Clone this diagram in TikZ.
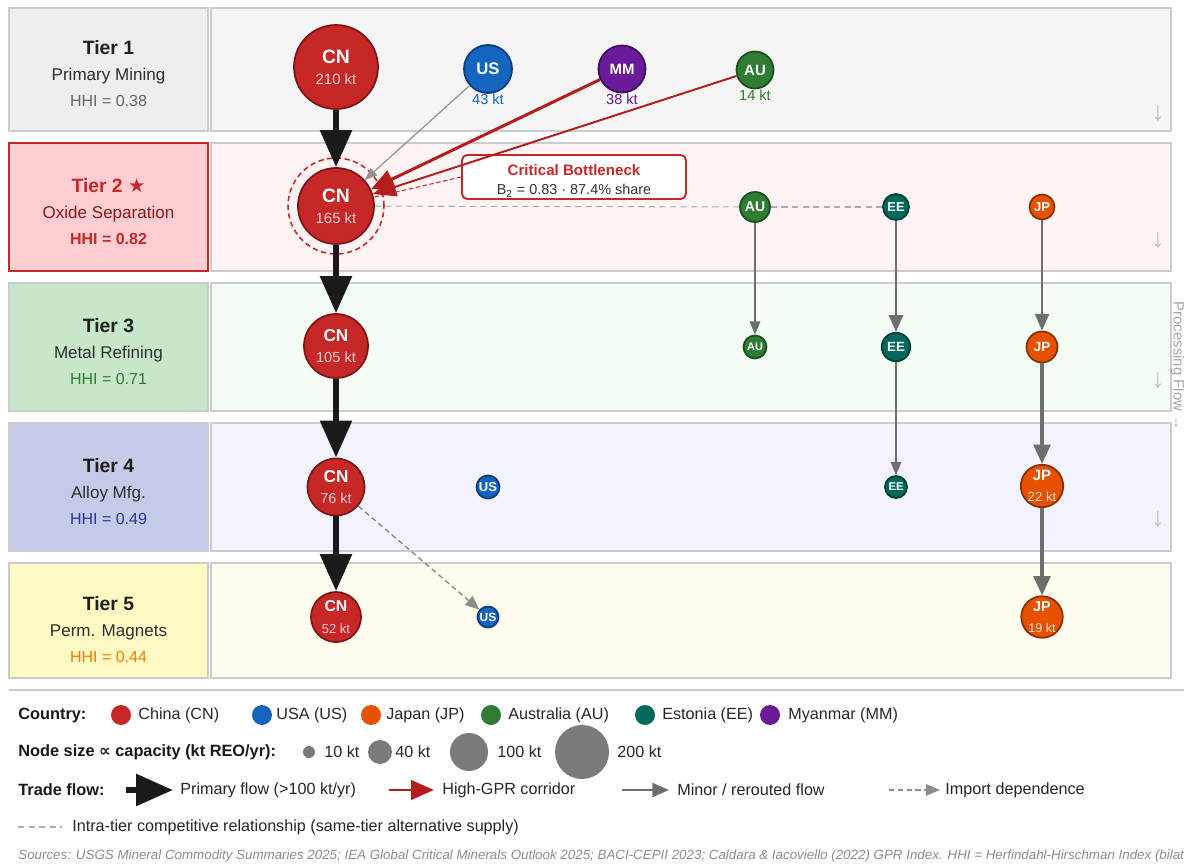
\documentclass[tikz,border=0pt]{standalone}
\usepackage{fontspec}
\setmainfont{Liberation Sans}
\newfontfamily\symfont{DejaVu Sans}
\usepackage{tikz}
\usetikzlibrary{arrows.meta,positioning}

\definecolor{cnred}{HTML}{C62828}
\definecolor{cnedge}{HTML}{7F1515}
\definecolor{usblue}{HTML}{1565C0}
\definecolor{usedge}{HTML}{0D3C78}
\definecolor{jporange}{HTML}{E65100}
\definecolor{jpedge}{HTML}{8A3000}
\definecolor{augreen}{HTML}{2E7D32}
\definecolor{auedge}{HTML}{1B4D1E}
\definecolor{eeteal}{HTML}{00695C}
\definecolor{eeedge}{HTML}{003D36}
\definecolor{mmpurple}{HTML}{6A1B9A}
\definecolor{mmedge}{HTML}{3E0E5E}
\definecolor{ktpink}{HTML}{FFCDD2}
\definecolor{ktpeach}{HTML}{FFE0CC}
\definecolor{flowblack}{HTML}{1A1A1A}
\definecolor{flowred}{HTML}{B71C1C}
\definecolor{flowgray}{HTML}{6E6E6E}
\definecolor{boxline}{HTML}{CCCCCC}
\definecolor{txtgray}{HTML}{666666}
\definecolor{darkred}{HTML}{8B1A1A}
\definecolor{band1}{HTML}{F5F5F5}
\definecolor{band2}{HTML}{FFF4F4}
\definecolor{band3}{HTML}{F3FDF3}
\definecolor{band4}{HTML}{F3F3FD}
\definecolor{band5}{HTML}{FFFDEF}
\definecolor{tier1fill}{HTML}{EEEEEE}
\definecolor{tier2fill}{HTML}{FFCDD2}
\definecolor{tier3fill}{HTML}{C8E6C9}
\definecolor{tier4fill}{HTML}{C5CAE9}
\definecolor{tier5fill}{HTML}{FFF9C4}
\definecolor{hhigreen}{HTML}{2E7D32}
\definecolor{hhiblue}{HTML}{283593}
\definecolor{hhiorange}{HTML}{F57C00}
\definecolor{legdotgray}{HTML}{7A7A7A}

\newcommand{\ctytext}[6]{\fontsize{#1}{#5}\selectfont #2\\\fontsize{#3}{#5}\selectfont\mdseries\color{#6}#4}

\begin{document}
\begin{tikzpicture}[x = 0.02cm, y = -0.02cm]
	\tikzstyle{every node} = [inner sep = 0pt]
	\tikzstyle{bandline} = [draw = boxline, line width = 0.6pt]
	\tikzstyle{tiertext} = [align = center, font = \fontsize{9.7}{14.8}\selectfont, text = black!82]
	\tikzstyle{cty} = [circle, line width = 1pt, align = center, text = white, font = \bfseries]
	\tikzstyle{cn} = [cty, fill = cnred, draw = cnedge]
	\tikzstyle{us} = [cty, fill = usblue, draw = usedge]
	\tikzstyle{jp} = [cty, fill = jporange, draw = jpedge]
	\tikzstyle{au} = [cty, fill = augreen, draw = auedge]
	\tikzstyle{ee} = [cty, fill = eeteal, draw = eeedge]
	\tikzstyle{mm} = [cty, fill = mmpurple, draw = mmedge]
	\tikzstyle{ktlabel} = [font = \fontsize{8.3}{10}\selectfont]
	\tikzstyle{ringmark} = [circle, draw = cnred, line width = 0.9pt, dash pattern = on 3pt off 2pt]
	\tikzstyle{bneckbox} = [draw = cnred, line width = 1.1pt, fill = white, rounded corners = 3pt, minimum width = 4.48cm, minimum height = 0.88cm, align = center, font = \fontsize{8.2}{10.8}\selectfont, text = black!80]
	\tikzstyle{primaryflow} = [flowblack, line width = 3.5pt, -{Triangle[width = 17.5pt, length = 21pt]}]
	\tikzstyle{gprflow} = [flowred, line width = 1.7pt, -{Triangle[width = 11pt, length = 13pt]}]
	\tikzstyle{thinflow} = [gray!85, line width = 0.7pt, -{Triangle[width = 5.5pt, length = 7pt]}]
	\tikzstyle{minorflow} = [flowgray, line width = 0.8pt, -{Triangle[width = 6pt, length = 7.5pt]}]
	\tikzstyle{midflow} = [flowgray, line width = 1.2pt, -{Triangle[width = 8pt, length = 9.5pt]}]
	\tikzstyle{heavyflow} = [flowgray, line width = 1.8pt, -{Triangle[width = 9.6pt, length = 11pt]}]
	\tikzstyle{importflow} = [gray!90, line width = 0.8pt, dash pattern = on 3pt off 2pt, -{Triangle[width = 6.5pt, length = 8pt]}]
	\tikzstyle{intraline} = [gray!65, line width = 0.6pt, dash pattern = on 3.5pt off 2.5pt]
	\tikzstyle{flowmark} = [text = black!25, font = \fontsize{15}{15}\selectfont]
	\tikzstyle{legtext} = [anchor = west, font = \fontsize{9.2}{11}\selectfont, text = black!85]
	\tikzstyle{leghead} = [anchor = west, font = \fontsize{9.3}{11}\selectfont\bfseries, text = black!90]
	\tikzstyle{legdot} = [circle, minimum size = 0.4cm]

\fill[white] (0, 0) rectangle (1184, 865);
\useasboundingbox (0, 0) rectangle (1184, 865);

	\filldraw[bandline, fill = tier1fill] (9, 8) rectangle (208, 131);
	\filldraw[bandline, fill = tier2fill, draw = cnred, line width = 1.2pt] (9, 143) rectangle (208, 271);
	\filldraw[bandline, fill = tier3fill] (9, 283) rectangle (208, 411);
	\filldraw[bandline, fill = tier4fill] (9, 423) rectangle (208, 551);
	\filldraw[bandline, fill = tier5fill] (9, 563) rectangle (208, 678);
	\filldraw[bandline, fill = band1] (211, 8) rectangle (1171, 131);
	\filldraw[bandline, fill = band2] (211, 143) rectangle (1171, 271);
	\filldraw[bandline, fill = band3] (211, 283) rectangle (1171, 411);
	\filldraw[bandline, fill = band4] (211, 423) rectangle (1171, 551);
	\filldraw[bandline, fill = band5] (211, 563) rectangle (1171, 678);

\node[tiertext] (tier1) at (108.5, 73.5) {{\fontsize{11}{14.8}\selectfont\bfseries\color{black!88}Tier 1}\\Primary Mining\\{\fontsize{9.1}{14.8}\selectfont\color{txtgray}HHI = 0.38}};
\node[tiertext, text = darkred] (tier2) at (108.5, 211.5) {{\fontsize{11}{14.8}\selectfont\bfseries\color{cnred}Tier 2 {\symfont ★}}\\Oxide Separation\\{\fontsize{9.1}{14.8}\selectfont\bfseries\color{cnred}HHI = 0.82}};
\node[tiertext] (tier3) at (108.5, 351.5) {{\fontsize{11}{14.8}\selectfont\bfseries\color{black!88}Tier 3}\\Metal Refining\\{\fontsize{9.1}{14.8}\selectfont\color{hhigreen}HHI = 0.71}};
\node[tiertext] (tier4) at (108.5, 491.5) {{\fontsize{11}{14.8}\selectfont\bfseries\color{black!88}Tier 4}\\Alloy Mfg.\\{\fontsize{9.1}{14.8}\selectfont\color{hhiblue}HHI = 0.49}};
\node[tiertext] (tier5) at (108.5, 629.5) {{\fontsize{11}{14.8}\selectfont\bfseries\color{black!88}Tier 5}\\Perm. Magnets\\{\fontsize{9.1}{14.8}\selectfont\color{hhiorange}HHI = 0.44}};

\node[flowmark] (fm1) at (1158, 113) {↓};
\node[flowmark] (fm2) at (1158, 240) {↓};
\node[flowmark] (fm3) at (1158, 380) {↓};
\node[flowmark] (fm4) at (1158, 519) {↓};
\node[rotate = -90, text = black!35, font = \fontsize{8.5}{10}\selectfont] (pflow) at (1177.5, 366) {Processing Flow →};

\node[ringmark, minimum size = 1.92cm] (cn2ring) at (336, 206) {};

\node[cn, minimum size = 1.68cm] (cn1) at (336, 67) {\ctytext{11}{CN}{8.5}{210 kt}{14.2}{ktpink}};
\node[cn, minimum size = 1.52cm] (cn2) at (336, 206) {\ctytext{11}{CN}{8.5}{165 kt}{14.2}{ktpink}};
\node[cn, minimum size = 1.28cm] (cn3) at (336, 346) {\ctytext{9.8}{CN}{8.3}{105 kt}{12.5}{ktpink}};
\node[cn, minimum size = 1.14cm] (cn4) at (336, 487) {\ctytext{9.8}{CN}{8.2}{76 kt}{12.5}{ktpink}};
\node[cn, minimum size = 1.0cm] (cn5) at (336, 617) {\ctytext{9}{CN}{7.4}{52 kt}{10.8}{ktpink}};

\node[us, minimum size = 0.96cm, font = \fontsize{9.5}{10}\selectfont\bfseries] (us1) at (488, 69) {US};
\node[mm, minimum size = 0.94cm, font = \fontsize{8.5}{10}\selectfont\bfseries] (mm1) at (622, 69) {MM};
\node[au, minimum size = 0.74cm, font = \fontsize{8.5}{10}\selectfont\bfseries] (au1) at (755, 70) {AU};
\node[ktlabel, text = usblue, below = 0pt of us1] (us1kt) {43 kt};
\node[ktlabel, text = mmpurple, below = 0pt of mm1] (mm1kt) {38 kt};
\node[ktlabel, text = augreen, below = 0pt of au1] (au1kt) {14 kt};

\node[au, minimum size = 0.6cm, font = \fontsize{8}{9}\selectfont\bfseries] (au2) at (755, 207) {AU};
\node[ee, minimum size = 0.52cm, font = \fontsize{7.3}{9}\selectfont\bfseries] (ee2) at (896, 207) {EE};
\node[jp, minimum size = 0.5cm, font = \fontsize{7.4}{9}\selectfont\bfseries] (jp2) at (1042, 207) {JP};

\node[au, minimum size = 0.46cm, font = \fontsize{6.2}{8}\selectfont\bfseries] (au3) at (755, 347) {AU};
\node[ee, minimum size = 0.57cm, font = \fontsize{7.6}{9}\selectfont\bfseries] (ee3) at (896, 347) {EE};
\node[jp, minimum size = 0.62cm, font = \fontsize{7.6}{9}\selectfont\bfseries] (jp3) at (1042, 347) {JP};

\node[us, minimum size = 0.46cm, font = \fontsize{7.4}{9}\selectfont\bfseries] (us4) at (488, 487) {US};
\node[ee, minimum size = 0.44cm, font = \fontsize{6.4}{8}\selectfont\bfseries] (ee4) at (896, 487) {EE};
\node[jp, minimum size = 0.78cm] (jp4) at (1042, 486) {\ctytext{8.5}{JP}{7.5}{22 kt}{10.8}{ktpeach}};

\node[us, minimum size = 0.42cm, font = \fontsize{6.8}{8}\selectfont\bfseries] (us5) at (488, 617) {US};
\node[jp, minimum size = 0.72cm] (jp5) at (1042, 617) {\ctytext{8.2}{JP}{7.2}{19 kt}{10.4}{ktpeach}};

\node[bneckbox] (bneck) at (574, 177) {{\rule{0pt}{10.8pt}\fontsize{8.6}{10.8}\selectfont\bfseries\color{cnred}Critical Bottleneck}\\B\textsubscript{2} = 0.83 · 87.4\% share};

	\path[draw, intraline] (cn2) -- (au2);
	\path[draw, intraline] (au2) -- (ee2);
	\path[draw, primaryflow] (cn1) -- (cn2);
	\path[draw, primaryflow] (cn2) -- (cn3);
	\path[draw, primaryflow] (cn3) -- (cn4);
	\path[draw, primaryflow] (cn4) -- (cn5);
	\path[draw, thinflow] (us1) -- (cn2);
	\path[draw, gprflow] (mm1) -- (cn2);
	\path[draw, gprflow, line width = 1.1pt] (au1) -- (cn2);
	\path[draw, cnred, line width = 0.6pt, dash pattern = on 2.5pt off 1.5pt] (bneck.west) -- (cn2);
	\path[draw, minorflow] (au2) -- (au3);
	\path[draw, midflow] (ee2) -- (ee3);
	\path[draw, minorflow] (ee3) -- (ee4);
	\path[draw, midflow] (jp2) -- (jp3);
	\path[draw, heavyflow] (jp3) -- (jp4);
	\path[draw, heavyflow] (jp4) -- (jp5);
	\path[draw, importflow] (cn4) -- (us5);

\coordinate (sep1) at (9, 690);
\coordinate (sep2) at (1184, 690);
	\path[draw, boxline, line width = 1pt] (sep1) -- (sep2);

\node[leghead] (lcountry) at (18, 715) {Country:};
\node[legdot, fill = cnred] (dcn) at (121, 715) {};
\node[legtext] (tcn) at (138, 715) {China (CN)};
\node[legdot, fill = usblue] (dus) at (262, 715) {};
\node[legtext] (tus) at (276, 715) {USA (US)};
\node[legdot, fill = jporange] (djp) at (371, 715) {};
\node[legtext] (tjp) at (386, 715) {Japan (JP)};
\node[legdot, fill = augreen] (dau) at (491, 715) {};
\node[legtext] (tau) at (508, 715) {Australia (AU)};
\node[legdot, fill = eeteal] (dee) at (645, 715) {};
\node[legtext] (tee) at (662, 715) {Estonia (EE)};
\node[legdot, fill = mmpurple] (dmm) at (770, 715) {};
\node[legtext] (tmm) at (788, 715) {Myanmar (MM)};

\node[leghead] (lsize) at (18, 752) {Node size {\symfont ∝} capacity (kt REO/yr):};
\node[circle, fill = legdotgray, minimum size = 0.24cm] (s10) at (309, 752) {};
\node[legtext] (t10) at (324, 752) {10 kt};
\node[circle, fill = legdotgray, minimum size = 0.48cm] (s40) at (380, 752) {};
\node[legtext] (t40) at (395, 752) {40 kt};
\node[circle, fill = legdotgray, minimum size = 0.76cm] (s100) at (469, 752) {};
\node[legtext] (t100) at (497, 752) {100 kt};
\node[circle, fill = legdotgray, minimum size = 1.08cm] (s200) at (582, 752) {};
\node[legtext] (t200) at (617, 752) {200 kt};

\node[leghead] (ltrade) at (18, 790) {Trade flow:};
\coordinate (lp1) at (126, 790);
\coordinate (lp2) at (173, 790);
	\path[draw, primaryflow] (lp1) -- (lp2);
\node[legtext] (tp) at (180, 790) {Primary flow (>100 kt/yr)};
\coordinate (lr1) at (389, 790);
\coordinate (lr2) at (434, 790);
	\path[draw, gprflow] (lr1) -- (lr2);
\node[legtext] (tr) at (442, 790) {High-GPR corridor};
\coordinate (lm1) at (622, 790);
\coordinate (lm2) at (669, 790);
	\path[draw, midflow] (lm1) -- (lm2);
\node[legtext] (tm) at (677, 790) {Minor / rerouted flow};
\coordinate (ld1) at (889, 790);
\coordinate (ld2) at (940, 790);
	\path[draw, importflow] (ld1) -- (ld2);
\node[legtext] (td) at (945, 790) {Import dependence};

\coordinate (li1) at (18, 827);
\coordinate (li2) at (62, 827);
	\path[draw, intraline] (li1) -- (li2);
\node[legtext] (ti) at (72, 827) {Intra-tier competitive relationship (same-tier alternative supply)};

\node[anchor = west, text = black!45, font = \fontsize{7.6}{9}\selectfont\itshape] (src) at (18, 856) {Sources: USGS Mineral Commodity Summaries 2025; IEA Global Critical Minerals Outlook 2025; BACI-CEPII 2023; Caldara \& Iacoviello (2022) GPR Index. HHI = Herfindahl-Hirschman Index (bilat};
\end{tikzpicture}
\end{document}
